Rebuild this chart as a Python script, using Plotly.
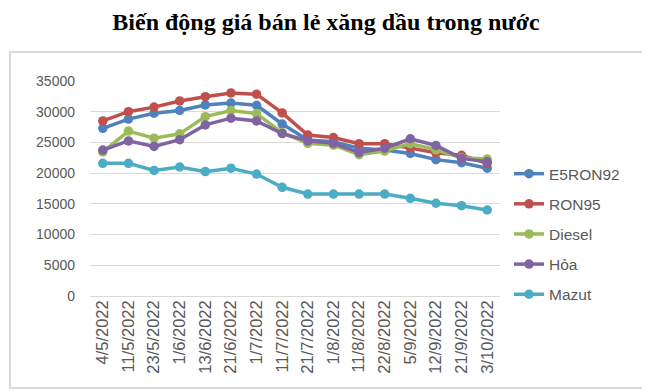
import plotly.graph_objects as go

dates = ["4/5/2022", "11/5/2022", "23/5/2022", "1/6/2022", "13/6/2022", "21/6/2022",
         "1/7/2022", "11/7/2022", "21/7/2022", "1/8/2022", "11/8/2022", "22/8/2022",
         "5/9/2022", "12/9/2022", "21/9/2022", "3/10/2022"]

e5ron92 = [27300, 28800, 29750, 30200, 31100, 31400, 31050, 28000, 25400, 25100,
           24050, 23750, 23200, 22200, 21700, 20800]
ron95 = [28500, 30000, 30750, 31750, 32450, 33050, 32850, 29800, 26200, 25800,
         24800, 24800, 24100, 23300, 22900, 21600]
diesel = [23450, 26850, 25700, 26400, 29200, 30200, 29700, 26600, 24850, 24550,
          23000, 23600, 24800, 23800, 22500, 22300]
hoa = [23750, 25250, 24350, 25450, 27850, 28950, 28500, 26450, 25250, 24850,
       23350, 24050, 25600, 24500, 22400, 21850]
mazut = [21600, 21600, 20450, 21000, 20250, 20800, 19850, 17700, 16600, 16600,
         16600, 16600, 15900, 15100, 14700, 14000]

series = [
    ("E5RON92", e5ron92, "#4F81BD"),
    ("RON95", ron95, "#C0504D"),
    ("Diesel", diesel, "#9BBB59"),
    ("Hỏa", hoa, "#8064A2"),
    ("Mazut", mazut, "#4BACC6"),
]

fig = go.Figure()
for i, (name, vals, col) in enumerate(series):
    fig.add_trace(go.Scatter(
        x=dates, y=vals, name=name, mode="lines+markers",
        line=dict(color=col, width=3.5),
        marker=dict(color=col, size=9.5, symbol="circle"),
        legendgroup=str(i), cliponaxis=False,
    ))

# plot area in reference pixels: x 90..500, y 81..296 (page has 8px body margin)
fig.update_layout(
    width=650, height=391,
    margin=dict(l=82, r=158, t=73, b=103, autoexpand=False),
    paper_bgcolor="white", plot_bgcolor="white",
    title=dict(text="<b>Biến động giá bán lẻ xăng dầu trong nước</b>",
               x=318 / 650, xref="container", xanchor="center",
               y=1 - 14 / 391, yref="container", yanchor="middle",
               font=dict(family="Liberation Serif, Times New Roman, serif", size=24, color="#000000")),
    showlegend=True,
    legend=dict(x=1.022, xanchor="left", y=0.288, yanchor="middle",
                font=dict(family="Liberation Sans, Arial, sans-serif", size=15.5, color="#595959"),
                tracegroupgap=7, itemwidth=30, bgcolor="rgba(0,0,0,0)"),
    xaxis=dict(type="category", tickangle=-90, showgrid=False, showline=False,
               ticks="", range=[-0.5, 15.5],
               tickfont=dict(family="Liberation Sans, Arial, sans-serif", size=16.5, color="#595959")),
    yaxis=dict(range=[0, 35000], dtick=5000, showgrid=True, gridcolor="#D9D9D9", gridwidth=1,
               zeroline=True, zerolinecolor="#D9D9D9", zerolinewidth=1,
               showline=False, ticks="", tickformat="d",
               ticklabelstandoff=14,
               tickfont=dict(family="Liberation Sans, Arial, sans-serif", size=14, color="#595959")),
    shapes=[dict(type="rect", xref="paper", yref="paper",
                 x0=(10 - 90) / 410, x1=(645 - 90) / 410,
                 y0=(296 - 388) / 215, y1=(296 - 52) / 215,
                 line=dict(color="#D9D9D9", width=2), fillcolor="rgba(0,0,0,0)", layer="below")],
)

fig.write_html("out.html")
